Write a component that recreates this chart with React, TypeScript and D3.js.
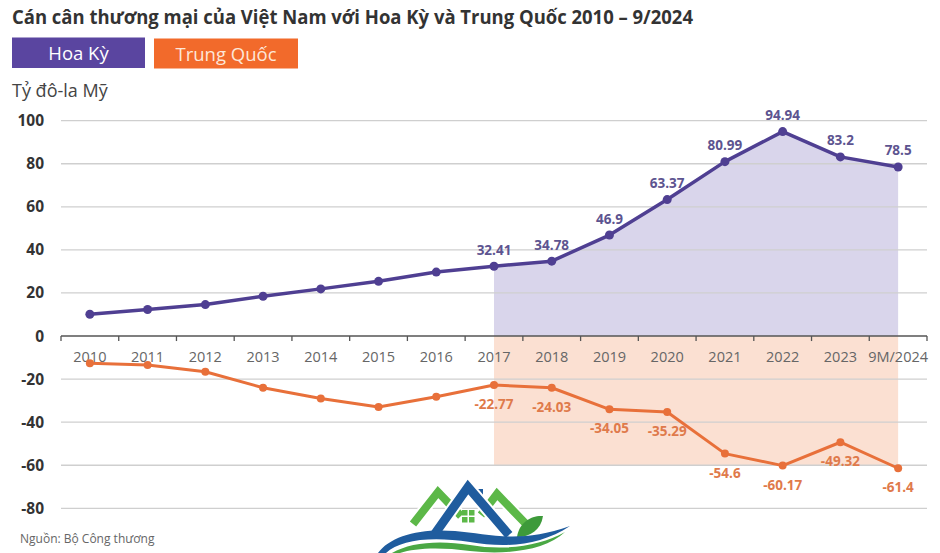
import React from "react";
import * as d3 from "d3";

const years = ["2010", "2011", "2012", "2013", "2014", "2015", "2016", "2017", "2018", "2019", "2020", "2021", "2022", "2023", "9M/2024"];
const usValues = [10.1, 12.3, 14.6, 18.5, 21.9, 25.4, 29.7, 32.41, 34.78, 46.9, 63.37, 80.99, 94.94, 83.2, 78.5];
const cnValues = [-12.6, -13.5, -16.6, -24.0, -29.0, -33.0, -28.2, -22.77, -24.03, -34.05, -35.29, -54.6, -60.17, -49.32, -61.4];
const usLabels = ["", "", "", "", "", "", "", "32.41", "34.78", "46.9", "63.37", "80.99", "94.94", "83.2", "78.5"];
const cnLabels = ["", "", "", "", "", "", "", "-22.77", "-24.03", "-34.05", "-35.29", "-54.6", "-60.17", "-49.32", "-61.4"];
const yTicks = [100, 80, 60, 40, 20, 0, -20, -40, -60, -80];
const seriesNames = ["Hoa Kỳ", "Trung Quốc"];
const shadeFrom = "2017";
const shadeTo = "9M/2024";
const cnShadeBottom = -60;

const W = 940;
const H = 553;
const FONT = "'Open Sans', 'Noto Sans', sans-serif";
const PURPLE = "#4f3f92";
const ORANGE = "#e8703a";

export default function App() {
  const x = d3.scaleBand<string>().domain(years).range([61, 927]).padding(0);
  const y = d3.scaleLinear().domain([-80, 100]).range([508.3, 120.7]);
  const cx = (d: string) => (x(d) as number) + x.bandwidth() / 2;

  const usPts = years.map((d, i) => ({ d, v: usValues[i], l: usLabels[i] }));
  const cnPts = years.map((d, i) => ({ d, v: cnValues[i], l: cnLabels[i] }));

  const line = d3
    .line<{ d: string; v: number }>()
    .x((p) => cx(p.d))
    .y((p) => y(p.v));

  const i0 = years.indexOf(shadeFrom);
  const i1 = years.indexOf(shadeTo);
  const area = d3
    .area<{ d: string; v: number }>()
    .x((p) => cx(p.d))
    .y0(y(0))
    .y1((p) => y(p.v));

  const x0 = cx(shadeFrom);
  const x1 = cx(shadeTo);
  const boundaries = d3.range(years.length + 1).map((i) => 61 + i * x.bandwidth());

  return (
    <svg width={W} height={H} style={{ display: "block", position: "absolute", left: 0, top: 0, background: "#fff" }}>
      {/* title */}
      <text x={12} y={24} fontFamily={FONT} fontWeight={700} fontSize={20} fill="#333" textLength={681} lengthAdjust="spacingAndGlyphs">
        Cán cân thương mại của Việt Nam với Hoa Kỳ và Trung Quốc 2010 – 9/2024
      </text>

      {/* legend */}
      <rect x={12} y={37.5} width={133} height={30.5} fill="#5a45a0" />
      <text x={78.5} y={60} textAnchor="middle" fontFamily={FONT} fontSize={18.5} fill="#fff">
        {seriesNames[0]}
      </text>
      <rect x={154} y={38.5} width={144} height={30} fill="#f26a2b" />
      <text x={226} y={61} textAnchor="middle" fontFamily={FONT} fontSize={18.5} fill="#fde6d8" textLength={101} lengthAdjust="spacingAndGlyphs">
        {seriesNames[1]}
      </text>

      <text x={12} y={97} fontFamily={FONT} fontSize={18} fill="#444">
        Tỷ đô-la Mỹ
      </text>

      {/* shaded areas */}
      <path d={area(usPts.slice(i0, i1 + 1)) || ""} fill="#d9d5eb" />
      <rect x={x0} y={y(0)} width={x1 - x0} height={y(cnShadeBottom) - y(0)} fill="#fbe0d2" />

      {/* gridlines */}
      {yTicks.filter((t) => t !== 0).map((t) => (
        <line key={t} x1={61} x2={927} y1={y(t)} y2={y(t)} stroke="#cfcfcf" strokeWidth={1.3} />
      ))}

      {/* y labels */}
      {yTicks.map((t) => (
        <text key={t} x={44} y={y(t) + 5.5} textAnchor="end" fontFamily={FONT} fontWeight={700} fontSize={15.5} fill="#333">
          {t}
        </text>
      ))}

      {/* zero axis */}
      <line x1={61} x2={927} y1={y(0)} y2={y(0)} stroke="#555" strokeWidth={1.5} />
      {boundaries.map((b, i) => (
        <line key={i} x1={b} x2={b} y1={y(0)} y2={y(0) + 5} stroke="#555" strokeWidth={1.3} />
      ))}
      {years.map((d) => (
        <text key={d} x={cx(d)} y={361.5} textAnchor="middle" fontFamily={FONT} fontSize={14.5} fill="#666">
          {d}
        </text>
      ))}

      {/* lines */}
      <path d={line(usPts) || ""} fill="none" stroke={PURPLE} strokeWidth={3.5} strokeLinejoin="round" />
      {usPts.map((p) => (
        <circle key={p.d} cx={cx(p.d)} cy={y(p.v)} r={4.5} fill={PURPLE} />
      ))}
      <path d={line(cnPts) || ""} fill="none" stroke={ORANGE} strokeWidth={3} strokeLinejoin="round" />
      {cnPts.map((p) => (
        <circle key={p.d} cx={cx(p.d)} cy={y(p.v)} r={4} fill={ORANGE} />
      ))}

      {/* value labels */}
      {usPts.filter((p) => p.l).map((p) => (
        <text key={p.d} x={cx(p.d)} y={y(p.v) - 11.5} textAnchor="middle" fontFamily={FONT} fontWeight={700} fontSize={13.5} fill="#5d5490">
          {p.l}
        </text>
      ))}
      {cnPts.filter((p) => p.l).map((p) => (
        <text key={p.d} x={cx(p.d)} y={y(p.v) + 24} textAnchor="middle" fontFamily={FONT} fontWeight={700} fontSize={13.5} fill="#df7a4b">
          {p.l}
        </text>
      ))}

      {/* source */}
      <text x={20} y={543} fontFamily={FONT} fontSize={12} fill="#666">
        Nguồn: Bộ Công thương
      </text>

      {/* watermark logo */}
      <g>
        <path d="M413,524 L438,492 L461,516" fill="none" stroke="#fff" strokeWidth={12} strokeLinejoin="miter" />
        <path d="M413,524 L438,492 L461,516" fill="none" stroke="#5cb848" strokeWidth={8} strokeLinejoin="miter" />
        <path d="M481,515 L497,494 L526,524" fill="none" stroke="#fff" strokeWidth={12} />
        <path d="M481,515 L497,494 L526,524" fill="none" stroke="#5cb848" strokeWidth={8} />
        <rect x={477} y={489} width={6} height={14} fill="#1f5c9e" />
        <path d="M434,535 L468,487 L509,535" fill="none" stroke="#fff" strokeWidth={13} />
        <path d="M434,535 L468,487 L509,535" fill="none" stroke="#1f5c9e" strokeWidth={9} />
        <rect x={462} y={510} width={5.5} height={5.5} fill="#5cb848" />
        <rect x={469} y={510} width={5.5} height={5.5} fill="#5cb848" />
        <rect x={462} y={517} width={5.5} height={5.5} fill="#5cb848" />
        <rect x={469} y={517} width={5.5} height={5.5} fill="#5cb848" />
        <path d="M517,537 C519,522 532,515 543,516 C541,530 530,537 517,537 Z" fill="#3d9a3a" />
        <path d="M378,553 C390,536 420,528 455,531 C490,534 520,544 570,526 C540,546 505,548 470,542 C430,536 400,540 386,553 Z" fill="#1f5c9e" />
        <path d="M392,553 C410,542 440,540 470,545 C505,551 540,546 565,532 C545,551 505,555 470,551 C440,547 415,548 400,553 Z" fill="#4aa844" />
      </g>
    </svg>
  );
}
